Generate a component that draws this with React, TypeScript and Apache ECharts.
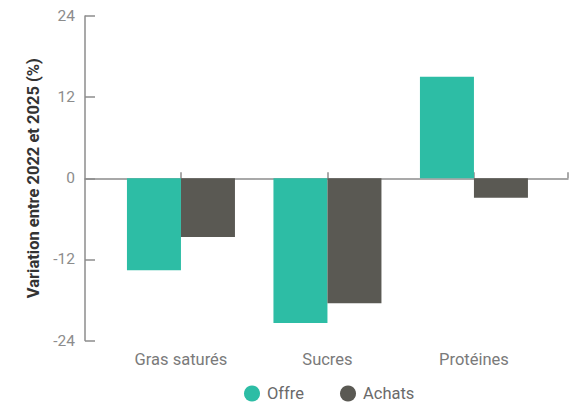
import React, { useEffect, useRef } from "react";
import * as echarts from "echarts";

const categories = ["Gras saturés", "Sucres", "Protéines"];
const offre = [-13.6, -21.4, 15.0];
const achats = [-8.7, -18.5, -2.9];
const yTicks = { min: -24, max: 24, interval: 12 };
const seriesNames = ["Offre", "Achats"];

const X_MIN = 0.345;
const X_MAX = 3.642;

export default function App() {
  const ref = useRef<HTMLDivElement>(null);
  useEffect(() => {
    if (!ref.current) return;
    const chart = echarts.init(ref.current, null, { renderer: "svg" });
    const pos = categories.map((_, i) => i + 1);
    const axisGray = "#8c8c8c";
    const font = "Roboto, 'DejaVu Sans', sans-serif";
    chart.setOption({
      animation: false,
      textStyle: { fontFamily: font },
      grid: { left: 85, right: 11, top: 16, bottom: 66.5, containLabel: false },
      legend: {
        data: seriesNames,
        bottom: 0,
        left: 239,
        icon: "circle",
        itemWidth: 16,
        itemHeight: 16,
        itemGap: 36,
        textStyle: { color: "#6a6a6a", fontSize: 16.5, fontFamily: font, padding: [0, 0, 3, 2] },
      },
      xAxis: [
        {
          type: "value",
          min: X_MIN,
          max: X_MAX,
          position: "bottom",
          axisLine: { show: true, onZero: true, lineStyle: { color: axisGray, width: 1.5 } },
          axisTick: {
            show: true,
            inside: true,
            length: 6,
            customValues: [...pos, X_MAX],
            lineStyle: { color: axisGray, width: 1.5 },
          },
          axisLabel: { show: false },
          splitLine: { show: false },
        },
        {
          type: "value",
          min: X_MIN,
          max: X_MAX,
          position: "bottom",
          axisLine: { show: false, onZero: false },
          axisTick: { show: false },
          axisLabel: {
            show: true,
            customValues: pos,
            formatter: (v: number) => categories[Math.round(v) - 1] ?? "",
            color: "#7a7a7a",
            fontSize: 16.5,
            margin: 10,
            fontFamily: font,
          },
          splitLine: { show: false },
        },
      ],
      yAxis: {
        type: "value",
        min: yTicks.min,
        max: yTicks.max,
        interval: yTicks.interval,
        name: "Variation entre 2022 et 2025 (%)",
        nameLocation: "middle",
        nameGap: 43,
        nameTextStyle: { color: "#333", fontSize: 16.5, fontWeight: "bold", fontFamily: font },
        axisLine: { show: true, lineStyle: { color: axisGray, width: 1.5 } },
        axisTick: { show: true, inside: true, length: 10, lineStyle: { color: axisGray, width: 1.5 } },
        axisLabel: { color: "#8c8c8c", fontSize: 15.5, margin: 10, fontFamily: font },
        splitLine: { show: false },
      },
      series: [
        {
          name: seriesNames[0],
          type: "bar",
          xAxisIndex: 0,
          barWidth: 54,
          barGap: "0%",
          itemStyle: { color: "#2dbda5" },
          data: offre.map((v, i) => [pos[i], v]),
        },
        {
          name: seriesNames[1],
          type: "bar",
          xAxisIndex: 0,
          barWidth: 54,
          barGap: "0%",
          itemStyle: { color: "#5a5953" },
          data: achats.map((v, i) => [pos[i], v]),
        },
      ],
    });
    return () => chart.dispose();
  }, []);
  return (
    <div
      ref={ref}
      style={{ position: "fixed", left: 0, top: 0, width: 579, height: 407, background: "#fff" }}
    />
  );
}
